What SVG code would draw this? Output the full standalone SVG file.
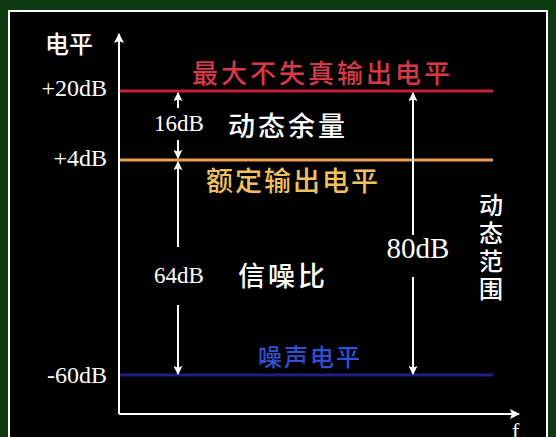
<svg xmlns="http://www.w3.org/2000/svg" width="556" height="437" viewBox="0 0 556 437">
<style>
.cjk{font-family:"Noto Sans CJK SC","Noto Sans CJK JP",sans-serif;font-weight:500;}
.lat{font-family:"Liberation Serif","DejaVu Serif",serif;fill:#ffffff;}
.ax{stroke:#ffffff;stroke-width:2;fill:none;}
.ar{stroke:#ffffff;stroke-width:2;fill:none;}
</style>
<defs>
<marker id="ah" viewBox="0 0 10 10" refX="9" refY="5" markerWidth="10" markerHeight="10" markerUnits="userSpaceOnUse" orient="auto">
<path d="M0,0 L10,5 L0,10 L2,5 Z" fill="#ffffff"/>
</marker>
<marker id="ahs" viewBox="0 0 10 10" refX="9" refY="5" markerWidth="9" markerHeight="9" markerUnits="userSpaceOnUse" orient="auto">
<path d="M0,0 L10,5 L0,10 L2,5 Z" fill="#ffffff"/>
</marker>
</defs>
<rect x="0" y="0" width="556" height="437" fill="#0c3a10"/>
<rect x="9" y="11" width="538" height="440" fill="#000000" stroke="#ffffff" stroke-width="2"/>
<g id="axes">
<line class="ax" x1="119" y1="414" x2="119" y2="34" marker-end="url(#ah)"/>
<line class="ax" x1="119" y1="414" x2="519" y2="414" marker-end="url(#ah)"/>
<text class="lat" x="512" y="438" font-size="22">f</text>
<text class="cjk" x="45" y="53" font-size="24" fill="#ffffff">电平</text>
</g>
<g id="levels">
<line x1="120" y1="91" x2="493" y2="91" stroke="#c8203c" stroke-width="3"/>
<line x1="120" y1="160" x2="493" y2="160" stroke="#e8a050" stroke-width="3"/>
<line x1="120" y1="375" x2="493" y2="375" stroke="#1e1e88" stroke-width="3"/>
</g>
<g id="tick-labels">
<text class="lat" x="107" y="96" font-size="24" text-anchor="end">+20dB</text>
<text class="lat" x="107" y="166" font-size="24" text-anchor="end">+4dB</text>
<text class="lat" x="107" y="383" font-size="24" text-anchor="end">-60dB</text>
</g>
<g id="node-max">
<text class="cjk" x="192" y="83" font-size="26" letter-spacing="3" fill="#d83848">最大不失真输出电平</text>
</g>
<g id="node-headroom">
<text class="cjk" x="228" y="136" font-size="27" letter-spacing="3" fill="#ffffff">动态余量</text>
</g>
<g id="node-rated">
<text class="cjk" x="206" y="191" font-size="27" letter-spacing="2" fill="#f0c060">额定输出电平</text>
</g>
<g id="node-snr">
<text class="cjk" x="238" y="286" font-size="27" letter-spacing="3" fill="#ffffff">信噪比</text>
</g>
<g id="node-noise">
<text class="cjk" x="258" y="366" font-size="24" letter-spacing="2" fill="#3050d0">噪声电平</text>
</g>
<g id="node-range">
<text class="cjk" x="491" y="193" font-size="24" letter-spacing="4" fill="#ffffff" writing-mode="vertical-rl" style="writing-mode:vertical-rl">动态范围</text>
</g>
<g id="connectors">
<line class="ar" x1="178" y1="108" x2="178" y2="93" marker-end="url(#ahs)"/>
<line class="ar" x1="178" y1="140" x2="178" y2="158" marker-end="url(#ahs)"/>
<line class="ar" x1="178" y1="247" x2="178" y2="162" marker-end="url(#ahs)"/>
<line class="ar" x1="178" y1="305" x2="178" y2="374" marker-end="url(#ahs)"/>
<line class="ar" x1="413" y1="235" x2="413" y2="93" marker-end="url(#ahs)"/>
<line class="ar" x1="413" y1="277" x2="413" y2="374" marker-end="url(#ahs)"/>
</g>
<g id="conn-labels">
<text class="lat" x="179" y="131" font-size="23" text-anchor="middle">16dB</text>
<text class="lat" x="179" y="283" font-size="23" text-anchor="middle">64dB</text>
<text class="lat" x="418" y="258" font-size="29" text-anchor="middle">80dB</text>
</g>
</svg>
